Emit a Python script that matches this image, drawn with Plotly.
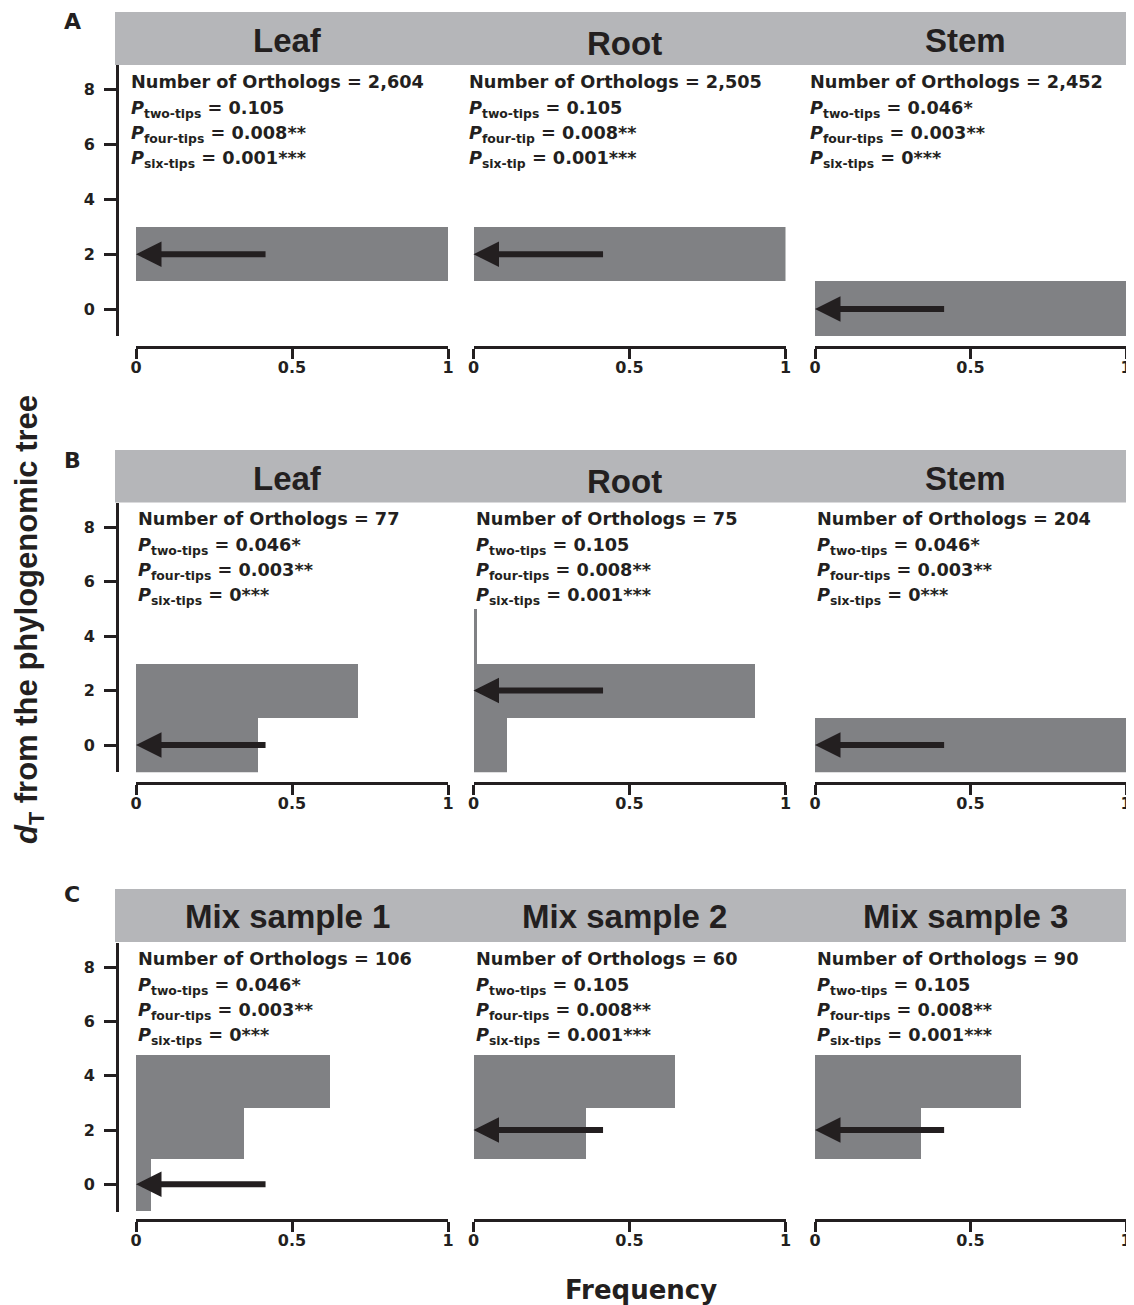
import plotly.graph_objects as go

# the page body adds an 8px margin around the figure
OFF = 8
W, H = 1134 - OFF, 1305 - OFF

# ---------------- data ----------------
panel_letters = ["A", "B", "C"]
titles = [
    ["Leaf", "Root", "Stem"],
    ["Leaf", "Root", "Stem"],
    ["Mix sample 1", "Mix sample 2", "Mix sample 3"],
]
ortholog_counts = [
    ["2,604", "2,505", "2,452"],
    ["77", "75", "204"],
    ["106", "60", "90"],
]
p_names = [
    [["two-tips", "four-tips", "six-tips"], ["two-tips", "four-tip", "six-tip"], ["two-tips", "four-tips", "six-tips"]],
    [["two-tips", "four-tips", "six-tips"], ["two-tips", "four-tips", "six-tips"], ["two-tips", "four-tips", "six-tips"]],
    [["two-tips", "four-tips", "six-tips"], ["two-tips", "four-tips", "six-tips"], ["two-tips", "four-tips", "six-tips"]],
]
p_values = [
    [["0.105", "0.008**", "0.001***"], ["0.105", "0.008**", "0.001***"], ["0.046*", "0.003**", "0***"]],
    [["0.046*", "0.003**", "0***"], ["0.105", "0.008**", "0.001***"], ["0.046*", "0.003**", "0***"]],
    [["0.046*", "0.003**", "0***"], ["0.105", "0.008**", "0.001***"], ["0.105", "0.008**", "0.001***"]],
]
# dT bins (lower/upper edges), per row
bin_edges = [
    [-1, 1, 3, 5],
    [-1, 1, 3, 5],
    [-0.97, 0.93, 2.82, 4.76],
]
# frequency of each dT bin (dT = 0, 2, 4)
frequencies = [
    [[0.0, 1.0, 0.0], [0.0, 1.0, 0.0], [1.0, 0.0, 0.0]],
    [[0.39, 0.71, 0.0], [0.105, 0.90, 0.009], [1.0, 0.0, 0.0]],
    [[0.047, 0.346, 0.622], [0.0, 0.36, 0.645], [0.0, 0.34, 0.662]],
]
arrow_dT = [[2, 2, 0], [0, 2, 0], [0, 2, 2]]
arrow_tail_freq = 0.42
x_tick_vals = [0, 0.5, 1]
x_tick_text = ["0", "0.5", "1"]
y_tick_vals = [0, 2, 4, 6, 8]
y_tick_text = ["0", "2", "4", "6", "8"]

# ---------------- styling / layout geometry (window pixels) ----------------
INK = "#231f20"
BAR = "#808184"
HEAD = "#b5b6b9"
FONT_W = "DejaVu Sans"
FONT_N = "Liberation Sans"

col_px = [(136, 448), (473.5, 785.5), (815, 1126)]
row_dom_px = [(65.1, 336.4), (502.5, 772.25), (942.6, 1211.5)]
xline_px = [347, 783, 1220]
header_px = [(12, 65), (450, 502.5), (889, 942)]
title_y_px = [40, 478, 916]
letter_y_px = [22, 460, 895]
text_xshift = [-7, 0, 0]
yaxis_x_px = 117


def fx(px):
    return (px - OFF) / W


def fy(py):
    return 1 - (py - OFF) / H


fig = go.Figure()
layout = dict(
    width=W, height=H,
    margin=dict(l=0, r=0, t=0, b=0, autoexpand=False),
    paper_bgcolor="white", plot_bgcolor="rgba(0,0,0,0)",
    showlegend=False,
    bargap=0,
)
annotations = []
shapes = []

k = 0
for r in range(3):
    shapes.append(dict(type="rect", xref="paper", yref="paper",
                       x0=fx(115), x1=fx(1127), y0=fy(header_px[r][1]), y1=fy(header_px[r][0]),
                       fillcolor=HEAD, line=dict(width=0), layer="above"))
    annotations.append(dict(text=panel_letters[r], xref="paper", yref="paper",
                            x=fx(72), y=fy(letter_y_px[r]), xanchor="center", yanchor="middle",
                            showarrow=False,
                            font=dict(family=FONT_W, size=22, color=INK, weight="bold")))
    edges = bin_edges[r]
    centers = [(edges[i] + edges[i + 1]) / 2 for i in range(3)]
    widths = [edges[i + 1] - edges[i] for i in range(3)]
    for c in range(3):
        k += 1
        xa = "x" if k == 1 else f"x{k}"
        ya = "y" if k == 1 else f"y{k}"
        fig.add_trace(go.Bar(
            orientation="h", x=frequencies[r][c], y=centers, width=widths, base=0,
            marker=dict(color=BAR, line=dict(width=0)),
            xaxis=xa, yaxis=ya, hoverinfo="skip"))
        x0, x1 = col_px[c]
        ytop, ybot = row_dom_px[r]
        layout["xaxis" + ("" if k == 1 else str(k))] = dict(
            domain=[fx(x0), fx(x1)], range=[0, 1], anchor="free", position=fy(xline_px[r]),
            showline=True, linecolor=INK, linewidth=3, ticks="outside", ticklen=10,
            tickwidth=3, tickcolor=INK, tickvals=x_tick_vals, ticktext=x_tick_text,
            ticklabelstandoff=-5, ticklabeloverflow="allow",
            tickfont=dict(family=FONT_W, size=16, color=INK, weight="bold"),
            showgrid=False, zeroline=False, fixedrange=True)
        ydict = dict(
            domain=[fy(ybot), fy(ytop)], range=[-1, 8.9], anchor="free",
            position=fx(yaxis_x_px), showgrid=False, zeroline=False, fixedrange=True)
        if c == 0:
            ydict.update(showline=True, linecolor=INK, linewidth=3, ticks="outside",
                         ticklen=12, tickwidth=3, tickcolor=INK,
                         tickvals=y_tick_vals, ticktext=y_tick_text,
                         ticklabelstandoff=6,
                         tickfont=dict(family=FONT_W, size=16, color=INK, weight="bold"))
        else:
            ydict.update(visible=False)
        layout["yaxis" + ("" if k == 1 else str(k))] = ydict

        # header title
        annotations.append(dict(
            text=titles[r][c], xref="paper", yref="paper",
            x=fx((x0 + x1) / 2 - 5), y=fy(title_y_px[r]),
            xanchor="center", yanchor="middle", showarrow=False,
            yshift=-3 if titles[r][c] == "Root" else 0,
            font=dict(family=FONT_N, size=33, color=INK, weight="bold")))

        # stats text
        lines = [f"Number of Orthologs = {ortholog_counts[r][c]}"]
        for nm, pv in zip(p_names[r][c], p_values[r][c]):
            lines.append(f"<i>P</i><sub>{nm}</sub> = {pv}")
        for i, t in enumerate(lines):
            annotations.append(dict(
                text=t, xref=xa, yref=ya, x=0, y=8.3 - i * 0.93,
                xanchor="left", yanchor="middle", showarrow=False,
                xshift=text_xshift[r], yshift=0 if i == 0 else -2,
                font=dict(family=FONT_W, size=17.7, color=INK, weight="bold")))

        # arrow
        annotations.append(dict(
            text="", xref=xa, yref=ya, axref=xa, ayref=ya,
            x=0, y=arrow_dT[r][c], ax=arrow_tail_freq, ay=arrow_dT[r][c],
            showarrow=True, arrowhead=2, arrowsize=0.85, arrowwidth=6,
            arrowcolor=INK, standoff=0, startstandoff=0))

annotations.append(dict(
    text="<i>d</i><sub>T</sub> from the phylogenomic tree", xref="paper", yref="paper",
    x=fx(29), y=fy(620), xanchor="center", yanchor="middle", showarrow=False, textangle=-90,
    font=dict(family=FONT_N, size=31, color=INK, weight="bold")))
annotations.append(dict(
    text="Frequency", xref="paper", yref="paper", x=fx(641), y=fy(1290),
    xanchor="center", yanchor="middle", showarrow=False,
    font=dict(family=FONT_W, size=26, color=INK, weight="bold")))

layout["annotations"] = annotations
layout["shapes"] = shapes
fig.update_layout(**layout)
fig.write_html("out.html")
